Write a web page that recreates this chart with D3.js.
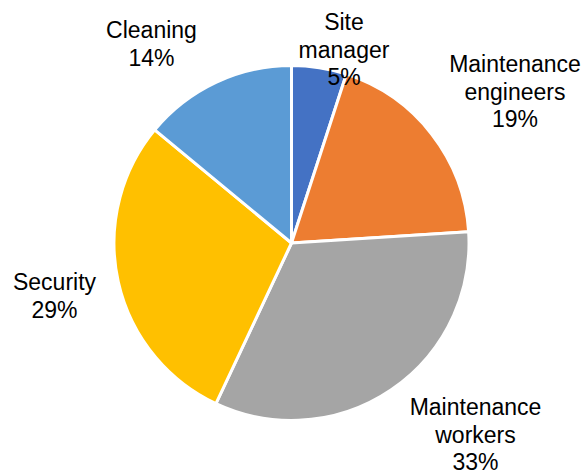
<!DOCTYPE html>
<html>
<head>
<meta charset="utf-8">
<script src="https://cdn.jsdelivr.net/npm/d3@7"></script>
<style>
  html, body { margin: 0; padding: 0; background: #fff; }
  svg { display: block; }
  text { font-family: Arial, "Liberation Sans", sans-serif; fill: #000; }
</style>
</head>
<body>
<svg id="chart" width="586" height="474"></svg>
<script>
// Staff breakdown by role
const categories = ["Site manager", "Maintenance engineers", "Maintenance workers", "Security", "Cleaning"];
const labelLines = [["Site", "manager"], ["Maintenance", "engineers"], ["Maintenance", "workers"], ["Security"], ["Cleaning"]];
const shares = [5, 19, 33, 29, 14];
const colors = ["#4472C4", "#ED7D31", "#A5A5A5", "#FFC000", "#5B9BD5"];

// Label anchor points (centre x, first baseline y)
const labelPos = [[344, 30], [515, 72], [475.5, 415], [54.5, 290], [151.5, 38]];

const W = 586, H = 474;
const cx = 291.5, cy = 243, R = 177.5;
const lineH = 27.5;

const svg = d3.select("#chart");

const pie = d3.pie().value(d => d).sort(null);
const arc = d3.arc().innerRadius(0).outerRadius(R);
const arcs = pie(shares);

const g = svg.append("g").attr("transform", `translate(${cx},${cy})`);

g.selectAll("path")
  .data(arcs)
  .join("path")
  .attr("d", arc)
  .attr("fill", (d, i) => colors[i])
  .attr("stroke", "#fff")
  .attr("stroke-width", 3)
  .attr("stroke-linejoin", "round");

const labels = svg.selectAll("text.lbl")
  .data(arcs)
  .join("text")
  .attr("class", "lbl")
  .attr("text-anchor", "middle")
  .attr("font-size", 23)
  .attr("x", (d, i) => labelPos[i][0])
  .attr("y", (d, i) => labelPos[i][1]);

labels.each(function(d, i) {
  const t = d3.select(this);
  const lines = labelLines[i].concat([shares[i] + "%"]);
  lines.forEach((ln, k) => {
    t.append("tspan")
      .attr("x", labelPos[i][0])
      .attr("dy", k === 0 ? 0 : lineH)
      .text(ln);
  });
});
</script>
</body>
</html>
